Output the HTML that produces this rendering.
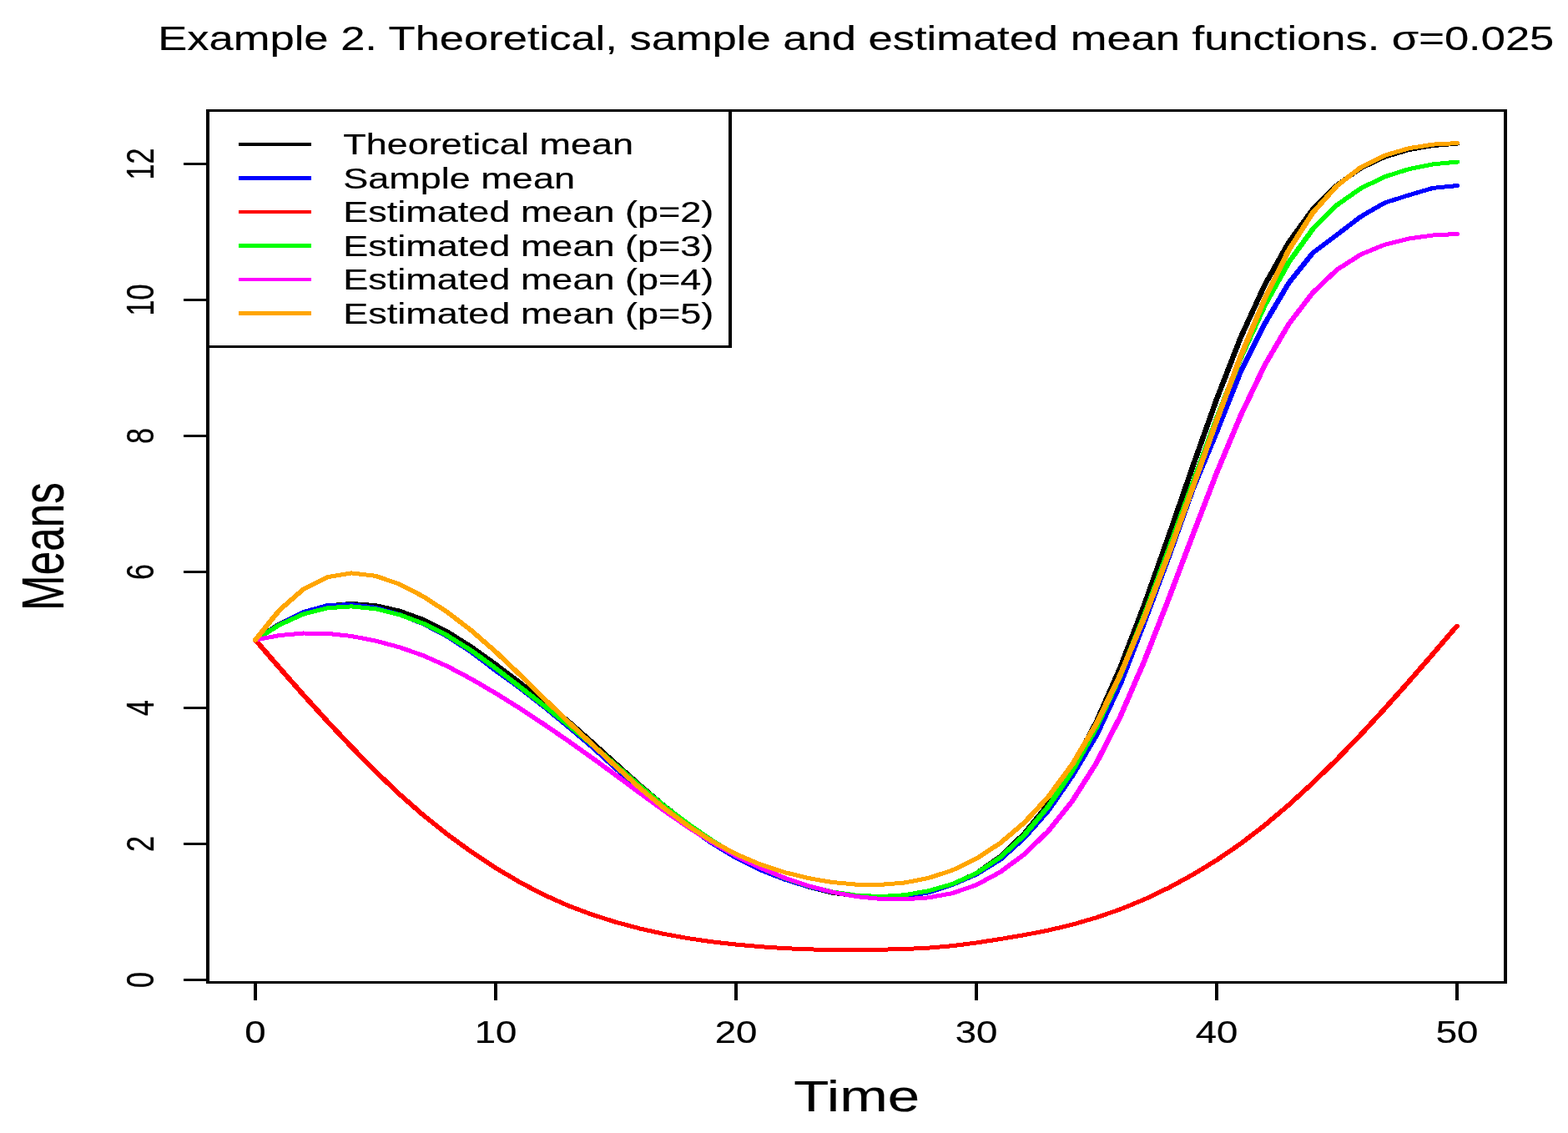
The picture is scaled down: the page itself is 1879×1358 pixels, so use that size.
<!DOCTYPE html>
<html lang="en"><head><meta charset="utf-8"><title>Example 2. Theoretical, sample and estimated mean functions</title>
<style>html,body{margin:0;padding:0;background:#fff;overflow:hidden}svg{display:block}text{font-family:"Liberation Sans",sans-serif;fill:#000;stroke:#000;stroke-width:0.2px;stroke-linejoin:round}</style></head><body>
<svg width="1879" height="1358" viewBox="0 0 1879 1358">
<rect x="0" y="0" width="1879" height="1358" fill="#fff"/>
<g transform="scale(1.333333,1)" fill="none" stroke-width="5.0" stroke-linejoin="round" stroke-linecap="round" shape-rendering="crispEdges">
<polyline stroke="#000000" points="229.50,767.00 251.10,747.88 272.70,734.05 294.30,725.97 315.90,723.43 337.50,725.61 359.10,732.09 380.70,742.66 402.30,757.23 423.90,775.45 445.50,796.15 467.10,817.90 488.70,840.22 510.30,863.84 531.90,889.11 553.50,915.22 575.10,941.00 596.70,965.40 618.30,987.74 639.90,1007.91 661.50,1025.43 683.10,1040.25 704.70,1052.77 726.30,1062.97 747.90,1070.16 769.50,1073.99 791.10,1074.82 812.70,1072.93 834.30,1068.18 855.90,1059.89 877.50,1046.60 899.10,1026.40 920.70,998.79 942.30,963.53 963.90,919.37 985.50,864.86 1007.10,799.25 1028.70,724.08 1050.30,642.79 1071.90,559.46 1093.50,478.32 1115.10,404.34 1136.70,341.55 1158.30,290.31 1179.90,250.71 1201.50,221.93 1223.10,201.64 1244.70,188.09 1266.30,179.56 1287.90,174.57 1309.50,172.21"/>
<polyline stroke="#0000ff" points="229.50,767.00 251.10,748.50 272.70,733.59 294.30,725.60 315.90,724.62 337.50,728.29 359.10,736.60 380.70,747.85 402.30,763.01 423.90,781.75 445.50,803.67 467.10,824.46 488.70,846.87 510.30,870.50 531.90,894.95 553.50,921.03 575.10,947.12 596.70,970.75 618.30,990.31 639.90,1010.69 661.50,1028.04 683.10,1042.47 704.70,1053.88 726.30,1062.85 747.90,1069.37 769.50,1073.44 791.10,1075.48 812.70,1074.66 834.30,1069.94 855.90,1060.40 877.50,1048.01 899.10,1030.16 920.70,1004.08 942.30,971.32 963.90,929.51 985.50,881.10 1007.10,819.16 1028.70,745.00 1050.30,667.57 1071.90,586.88 1093.50,517.61 1115.10,445.08 1136.70,388.02 1158.30,339.12 1179.90,303.18 1201.50,281.50 1223.10,259.50 1244.70,242.96 1266.30,233.83 1287.90,225.35 1309.50,222.58"/>
<polyline stroke="#ff0000" points="229.50,767.00 251.10,800.26 272.70,832.88 294.30,864.64 315.90,895.26 337.50,924.55 359.10,952.01 380.70,977.33 402.30,1000.33 423.90,1021.28 445.50,1040.28 467.10,1057.39 488.70,1072.42 510.30,1085.31 531.90,1096.13 553.50,1105.26 575.10,1112.97 596.70,1119.37 618.30,1124.61 639.90,1128.82 661.50,1132.08 683.10,1134.64 704.70,1136.59 726.30,1137.87 747.90,1138.45 769.50,1138.52 791.10,1138.22 812.70,1137.54 834.30,1136.16 855.90,1133.68 877.50,1129.99 899.10,1125.53 920.70,1120.65 942.30,1115.01 963.90,1108.16 985.50,1099.76 1007.10,1089.76 1028.70,1077.93 1050.30,1064.13 1071.90,1048.50 1093.50,1030.91 1115.10,1011.19 1136.70,989.13 1158.30,964.76 1179.90,938.40 1201.50,910.29 1223.10,880.42 1244.70,849.14 1266.30,816.80 1287.90,783.75 1309.50,750.13"/>
<polyline stroke="#00ff00" points="229.50,767.00 251.10,749.00 272.70,736.03 294.30,728.74 315.90,726.88 337.50,729.73 359.10,736.72 380.70,747.48 402.30,761.94 423.90,780.03 445.50,800.98 467.10,823.06 488.70,845.51 510.30,868.43 531.90,892.24 553.50,917.03 575.10,941.88 596.70,965.57 618.30,987.44 639.90,1007.34 661.50,1024.93 683.10,1039.97 704.70,1052.31 726.30,1061.95 747.90,1068.89 769.50,1073.15 791.10,1074.54 812.70,1072.79 834.30,1067.87 855.90,1059.61 877.50,1046.74 899.10,1027.46 920.70,1000.83 942.30,966.52 963.90,923.78 985.50,871.60 1007.10,808.74 1028.70,736.67 1050.30,659.06 1071.90,579.65 1093.50,501.77 1115.10,428.97 1136.70,365.92 1158.30,314.28 1179.90,274.59 1201.50,245.85 1223.10,225.65 1244.70,211.78 1266.30,202.63 1287.90,196.91 1309.50,194.06"/>
<polyline stroke="#ff00ff" points="229.50,767.00 251.10,761.59 272.70,759.00 294.30,759.35 315.90,762.49 337.50,768.04 359.10,775.79 380.70,785.93 402.30,798.77 423.90,814.03 445.50,830.90 467.10,848.93 488.70,867.89 510.30,887.69 531.90,908.11 553.50,929.14 575.10,950.46 596.70,971.41 618.30,991.29 639.90,1009.59 661.50,1025.91 683.10,1040.04 704.70,1051.95 726.30,1061.63 747.90,1069.22 769.50,1074.56 791.10,1077.41 812.70,1077.87 834.30,1075.89 855.90,1070.66 877.50,1060.70 899.10,1045.13 920.70,1023.82 942.30,995.86 963.90,959.80 985.50,914.28 1007.10,858.19 1028.70,791.61 1050.30,717.95 1071.90,641.64 1093.50,566.81 1115.10,497.91 1136.70,437.64 1158.30,388.38 1179.90,350.76 1201.50,323.39 1223.10,304.94 1244.70,293.15 1266.30,286.00 1287.90,282.00 1309.50,280.44"/>
<polyline stroke="#ffa500" points="229.50,767.00 251.10,731.35 272.70,706.18 294.30,691.69 315.90,686.92 337.50,690.27 359.10,700.17 380.70,715.16 402.30,733.95 423.90,756.05 445.50,781.20 467.10,808.61 488.70,836.88 510.30,864.69 531.90,891.83 553.50,918.66 575.10,944.52 596.70,968.42 618.30,989.67 639.90,1008.17 661.50,1023.73 683.10,1036.02 704.70,1045.43 726.30,1052.52 747.90,1057.49 769.50,1060.13 791.10,1060.39 812.70,1058.06 834.30,1052.47 855.90,1043.11 877.50,1029.24 899.10,1010.39 920.70,985.93 942.30,954.94 963.90,915.94 985.50,867.33 1007.10,808.01 1028.70,739.49 1050.30,664.22 1071.90,584.51 1093.50,504.02 1115.10,426.90 1136.70,357.93 1158.30,299.78 1179.90,254.96 1201.50,222.74 1223.10,200.53 1244.70,186.23 1266.30,177.71 1287.90,173.13 1309.50,171.56"/>
</g>
<g shape-rendering="crispEdges">
<rect x="249" y="133" width="626" height="282" fill="#fff"/>
<rect x="247" y="131" width="4" height="1048" fill="#000"/>
<rect x="1802" y="131" width="4" height="1048" fill="#000"/>
<rect x="247" y="131" width="1559" height="3" fill="#000"/>
<rect x="247" y="1176" width="1559" height="3" fill="#000"/>
<rect x="873" y="131" width="4" height="286" fill="#000"/>
<rect x="247" y="414" width="630" height="3" fill="#000"/>
<rect x="304" y="1179" width="4" height="20" fill="#000"/>
<rect x="592" y="1179" width="4" height="20" fill="#000"/>
<rect x="880" y="1179" width="4" height="20" fill="#000"/>
<rect x="1168" y="1179" width="4" height="20" fill="#000"/>
<rect x="1456" y="1179" width="4" height="20" fill="#000"/>
<rect x="1744" y="1179" width="4" height="20" fill="#000"/>
<rect x="220" y="1173" width="27" height="3" fill="#000"/>
<rect x="220" y="1010" width="27" height="3" fill="#000"/>
<rect x="220" y="847" width="27" height="3" fill="#000"/>
<rect x="220" y="684" width="27" height="3" fill="#000"/>
<rect x="220" y="521" width="27" height="3" fill="#000"/>
<rect x="220" y="358" width="27" height="3" fill="#000"/>
<rect x="220" y="195" width="27" height="3" fill="#000"/>
<rect x="286" y="171" width="87" height="4" fill="#000000"/>
<rect x="286" y="211" width="87" height="5" fill="#0000ff"/>
<rect x="286" y="252" width="87" height="4" fill="#ff0000"/>
<rect x="286" y="292" width="87" height="5" fill="#00ff00"/>
<rect x="286" y="333" width="87" height="4" fill="#ff00ff"/>
<rect x="286" y="373" width="87" height="5" fill="#ffa500"/>
</g>
<text transform="translate(1025.80,60.00) scale(1.3362,1.0200)" font-size="39.3" text-anchor="middle">Example 2. Theoretical, sample and estimated mean functions. σ=0.025</text>
<text transform="translate(1026.60,1332.00) scale(1.3406,1.0200)" font-size="51.5" text-anchor="middle">Time</text>
<text transform="translate(76.30,655.00) rotate(-90) scale(0.9950,1.3600)" font-size="51.5" text-anchor="middle">Means</text>
<text transform="translate(306.00,1250.00) scale(1.3330,1.0650)" font-size="34.2" text-anchor="middle">0</text>
<text transform="translate(594.00,1250.00) scale(1.3330,1.0650)" font-size="34.2" text-anchor="middle">10</text>
<text transform="translate(882.00,1250.00) scale(1.3330,1.0650)" font-size="34.2" text-anchor="middle">20</text>
<text transform="translate(1170.00,1250.00) scale(1.3330,1.0650)" font-size="34.2" text-anchor="middle">30</text>
<text transform="translate(1458.00,1250.00) scale(1.3330,1.0650)" font-size="34.2" text-anchor="middle">40</text>
<text transform="translate(1746.00,1250.00) scale(1.3330,1.0650)" font-size="34.2" text-anchor="middle">50</text>
<text transform="translate(184.00,1174.50) rotate(-90) scale(1.0000,1.3250)" font-size="34.2" text-anchor="middle">0</text>
<text transform="translate(184.00,1011.50) rotate(-90) scale(1.0000,1.3250)" font-size="34.2" text-anchor="middle">2</text>
<text transform="translate(184.00,848.50) rotate(-90) scale(1.0000,1.3250)" font-size="34.2" text-anchor="middle">4</text>
<text transform="translate(184.00,685.50) rotate(-90) scale(1.0000,1.3250)" font-size="34.2" text-anchor="middle">6</text>
<text transform="translate(184.00,522.50) rotate(-90) scale(1.0000,1.3250)" font-size="34.2" text-anchor="middle">8</text>
<text transform="translate(184.00,359.50) rotate(-90) scale(1.0000,1.3250)" font-size="34.2" text-anchor="middle">10</text>
<text transform="translate(184.00,196.50) rotate(-90) scale(1.0000,1.3250)" font-size="34.2" text-anchor="middle">12</text>
<text transform="translate(411.27,185.00) scale(1.3240,1.0200)" font-size="34.0" text-anchor="start">Theoretical mean</text>
<text transform="translate(411.27,225.60) scale(1.3240,1.0200)" font-size="34.0" text-anchor="start">Sample mean</text>
<text transform="translate(411.27,266.20) scale(1.3240,1.0200)" font-size="34.0" text-anchor="start">Estimated mean (p=2)</text>
<text transform="translate(411.27,306.80) scale(1.3240,1.0200)" font-size="34.0" text-anchor="start">Estimated mean (p=3)</text>
<text transform="translate(411.27,347.40) scale(1.3240,1.0200)" font-size="34.0" text-anchor="start">Estimated mean (p=4)</text>
<text transform="translate(411.27,388.00) scale(1.3240,1.0200)" font-size="34.0" text-anchor="start">Estimated mean (p=5)</text>
</svg></body></html>
